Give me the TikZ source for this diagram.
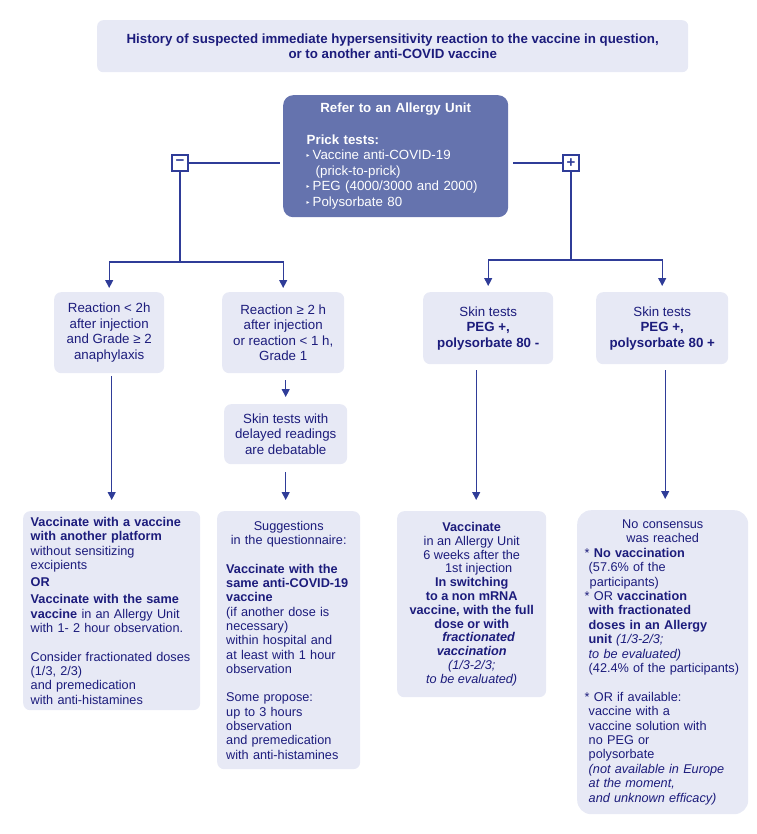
\documentclass[tikz,border=0pt]{standalone}
\usepackage{fontspec}
\setmainfont{Liberation Sans}
\newfontfamily\dejavu{DejaVu Sans}
\usetikzlibrary{arrows.meta}
\definecolor{txt}{HTML}{1C1C7C}
\definecolor{ln}{HTML}{2F3C98}
\definecolor{boxbg}{HTML}{E7E9F5}
\definecolor{cbox}{HTML}{6573AE}
\newcommand{\bul}{\raisebox{0.3ex}{\dejavu\fontsize{6}{6}\selectfont ▸}\hspace{3pt}}
\begin{document}
\begin{tikzpicture}[x=1pt,y=-1pt,
  box/.style={fill=boxbg, rounded corners=7, text=txt, inner sep=0pt, anchor=north west, align=center},
  up/.style={font=\fontsize{13.3}{15.6}\selectfont},
  lo/.style={font=\fontsize{12.7}{14.3}\selectfont},
  sign/.style={draw=ln, line width=1.2pt, fill=white, minimum size=16pt, inner sep=0pt, text=ln, font=\bfseries\fontsize{15}{15}\selectfont},
  con/.style={draw=ln, line width=1.1pt},
  arr/.style={con, -{Triangle[length=8pt,width=8pt]}}
]
\useasboundingbox (0,0) rectangle (756,834);

\node[box, up, rounded corners=6, minimum width=591, minimum height=52] (title) at (97,20)
  {\textbf{History of suspected immediate hypersensitivity reaction to the vaccine in question,}\\\textbf{or to another anti-COVID vaccine}};

\node[box, up, fill=cbox, text=white, rounded corners=10, minimum width=225, minimum height=122, text width=178, align=left] (refer) at (283,95)
  {\makebox[\linewidth]{\textbf{Refer to an Allergy Unit}}\\[15.6pt]\textbf{Prick tests:}\\\bul Vaccine anti-COVID-19\\\hspace*{9pt}(prick-to-prick)\\\bul PEG (4000/3000 and 2000)\\\bul Polysorbate 80};

\node[sign] (minus) at (180,163) {−};
\node[sign] (plus) at (571,163) {+};

\node[box, up, minimum width=110, minimum height=81] (r1) at (54,292)
  {Reaction < 2h\\after injection\\and Grade ≥ 2\\anaphylaxis};
\node[box, up, minimum width=122, minimum height=81] (r2) at (222,292)
  {Reaction ≥ 2 h\\after injection\\or reaction < 1 h,\\Grade 1};
\node[box, up, minimum width=123, minimum height=60] (r3) at (224,404)
  {Skin tests with\\delayed readings\\are debatable};
\node[box, up, minimum width=130, minimum height=72] (r4) at (423,292)
  {Skin tests\\\textbf{PEG +,}\\\textbf{polysorbate 80 -}};
\node[box, up, minimum width=132, minimum height=72] (r5) at (596,292)
  {Skin tests\\\textbf{PEG +,}\\\textbf{polysorbate 80 +}};

\node[box, lo, minimum width=177, minimum height=199, text width=162, align=left] (bl) at (23,511)
  {\textbf{Vaccinate with a vaccine}\\\textbf{with another platform}\\without sensitizing\\excipients\\[3pt]
   \textbf{OR}\\[3pt]
   \textbf{Vaccinate with the same}\\\textbf{vaccine} in an Allergy Unit\\with 1- 2 hour observation.\\[14.3pt]
   Consider fractionated doses\\(1/3, 2/3)\\and premedication\\with anti-histamines};

\node[box, lo, minimum width=143, minimum height=258, text width=125, align=left] (bm) at (217,511)
  {\makebox[\linewidth]{Suggestions}\\\makebox[\linewidth]{in the questionnaire:}\\[14.3pt]
   \textbf{Vaccinate with the}\\\textbf{same anti-COVID-19}\\\textbf{vaccine}\\(if another dose is\\necessary)\\within hospital and\\at least with 1 hour\\observation\\[14.3pt]
   Some propose:\\up to 3 hours\\observation\\and premedication\\with anti-histamines};

\node[box, font=\fontsize{12.7}{13.8}\selectfont, minimum width=149, minimum height=186] (br) at (397,511)
  {\textbf{Vaccinate}\\in an Allergy Unit\\6 weeks after the\\\hspace*{14pt}1st injection\\\textbf{In switching}\\\textbf{to a non mRNA}\\\textbf{vaccine, with the full}\\\textbf{dose or with}\hspace*{10pt}\\\hspace*{14pt}\textbf{\textit{fractionated}}\\\textbf{\textit{vaccination}}\\\textit{(1/3-2/3;}\\\textit{to be evaluated)}};

\node[box, font=\fontsize{12.7}{14.4}\selectfont, rounded corners=14, minimum width=171, minimum height=304, text width=156, align=left] (fr) at (577,510)
  {\makebox[\linewidth]{No consensus}\\\makebox[\linewidth]{was reached}\\
   \relax* \textbf{No vaccination}\\\hspace*{4pt}(57.6\% of the\\\hspace*{5pt}participants)\\
   \relax* OR \textbf{vaccination}\\\hspace*{4pt}\textbf{with fractionated}\\\hspace*{4pt}\textbf{doses in an Allergy}\\\hspace*{4pt}\textbf{unit} \textit{(1/3-2/3;}\\\hspace*{4pt}\textit{to be evaluated)}\\\hspace*{4pt}(42.4\% of the participants)\\[14.4pt]
   \relax* OR if available:\\\hspace*{4pt}vaccine with a\\\hspace*{4pt}vaccine solution with\\\hspace*{4pt}no PEG or\\\hspace*{4pt}polysorbate\\\hspace*{4pt}\textit{(not available in Europe}\\\hspace*{4pt}\textit{at the moment,}\\\hspace*{4pt}\textit{and unknown efficacy)}};

% connectors
\coordinate (jl) at (180,262);
\coordinate (jr) at (571,260);
\draw[con, shorten >=3pt] (minus.east) -- (minus.east -| refer.west);
\draw[con, shorten >=5pt] (plus.west) -- (plus.west -| refer.east);
\draw[con] (minus.south) -- (jl);
\draw[con] (plus.south) -- (jr);
\draw[arr, shorten >=4pt] (jl) -| (r1.north);
\draw[arr, shorten >=4pt] (jl) -| (r2.north);
\draw[arr, shorten >=6pt] (jr) -| (r4.north);
\draw[arr, shorten >=6pt] (jr) -| (r5.north);
\draw[arr, shorten <=3pt, shorten >=11pt] (r1.south -| bl.north) -- (bl.north);
\draw[arr, shorten <=7pt, shorten >=7pt] (r2.south -| r3.north) -- (r3.north);
\draw[arr, shorten <=8pt, shorten >=11pt] (r3.south) -- (r3.south |- bm.north);
\draw[arr, shorten <=6pt, shorten >=11pt] ([xshift=-12pt]r4.south) -- ([xshift=-12pt]r4.south |- br.north);
\draw[arr, shorten <=6pt, shorten >=11pt] ([xshift=3pt]r5.south) -- ([xshift=3pt]r5.south |- fr.north);
\end{tikzpicture}
\end{document}
